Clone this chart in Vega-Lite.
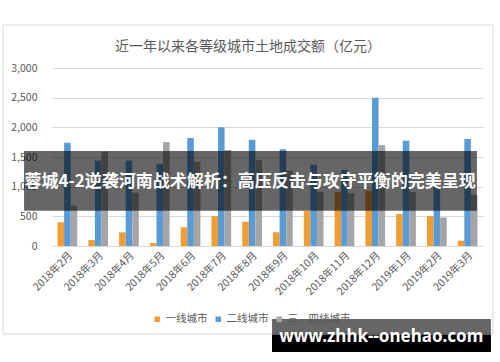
{
  "$schema": "https://vega.github.io/schema/vega-lite/v6.json",
  "width": 431,
  "height": 178,
  "autosize": {"type": "none"},
  "padding": {"left": 52, "top": 68, "right": 17, "bottom": 116},
  "background": "white",
  "config": {
    "view": {"stroke": null},
    "font": "Noto Sans CJK SC",
    "axisX": {"labelAngle": -45, "labelFontSize": 10.5, "labelColor": "#595959", "ticks": false, "domainColor": "#d9d9d9", "grid": false, "labelPadding": 4},
    "axisY": {"labelFontSize": 10.5, "labelColor": "#595959", "domain": false, "ticks": false, "gridColor": "#d9d9d9", "labelPadding": 15}
  },
  "title": {"text": "近一年以来各等级城市土地成交额（亿元）", "fontSize": 14, "fontWeight": "normal", "color": "#595959", "font": "Noto Sans CJK SC", "anchor": "middle", "frame": "bounds", "offset": -30},
  "resolve": {"axis": {"x": "independent", "y": "independent"}},
  "datasets": {
    "land": [
      {"month": "2018年2月", "series": "一线城市", "value": 400},
      {"month": "2018年2月", "series": "二线城市", "value": 1740},
      {"month": "2018年2月", "series": "三、四线城市", "value": 680},
      {"month": "2018年3月", "series": "一线城市", "value": 100},
      {"month": "2018年3月", "series": "二线城市", "value": 1440},
      {"month": "2018年3月", "series": "三、四线城市", "value": 1590},
      {"month": "2018年4月", "series": "一线城市", "value": 230},
      {"month": "2018年4月", "series": "二线城市", "value": 1440},
      {"month": "2018年4月", "series": "三、四线城市", "value": 900},
      {"month": "2018年5月", "series": "一线城市", "value": 50},
      {"month": "2018年5月", "series": "二线城市", "value": 1380},
      {"month": "2018年5月", "series": "三、四线城市", "value": 1750},
      {"month": "2018年6月", "series": "一线城市", "value": 315},
      {"month": "2018年6月", "series": "二线城市", "value": 1820},
      {"month": "2018年6月", "series": "三、四线城市", "value": 1420},
      {"month": "2018年7月", "series": "一线城市", "value": 505},
      {"month": "2018年7月", "series": "二线城市", "value": 2000},
      {"month": "2018年7月", "series": "三、四线城市", "value": 1620},
      {"month": "2018年8月", "series": "一线城市", "value": 410},
      {"month": "2018年8月", "series": "二线城市", "value": 1790},
      {"month": "2018年8月", "series": "三、四线城市", "value": 1450},
      {"month": "2018年9月", "series": "一线城市", "value": 230},
      {"month": "2018年9月", "series": "二线城市", "value": 1630},
      {"month": "2018年9月", "series": "三、四线城市", "value": 1270},
      {"month": "2018年10月", "series": "一线城市", "value": 590},
      {"month": "2018年10月", "series": "二线城市", "value": 1370},
      {"month": "2018年10月", "series": "三、四线城市", "value": 915},
      {"month": "2018年11月", "series": "一线城市", "value": 915},
      {"month": "2018年11月", "series": "二线城市", "value": 1280},
      {"month": "2018年11月", "series": "三、四线城市", "value": 890},
      {"month": "2018年12月", "series": "一线城市", "value": 930},
      {"month": "2018年12月", "series": "二线城市", "value": 2500},
      {"month": "2018年12月", "series": "三、四线城市", "value": 1700},
      {"month": "2019年1月", "series": "一线城市", "value": 540},
      {"month": "2019年1月", "series": "二线城市", "value": 1775},
      {"month": "2019年1月", "series": "三、四线城市", "value": 910},
      {"month": "2019年2月", "series": "一线城市", "value": 505},
      {"month": "2019年2月", "series": "二线城市", "value": 1000},
      {"month": "2019年2月", "series": "三、四线城市", "value": 480},
      {"month": "2019年3月", "series": "一线城市", "value": 90},
      {"month": "2019年3月", "series": "二线城市", "value": 1805},
      {"month": "2019年3月", "series": "三、四线城市", "value": 860}
    ]
  },
  "layer": [
    {
      "data": {"name": "land"},
      "mark": {"type": "bar"},
      "encoding": {
        "x": {
          "field": "month", "type": "nominal",
          "sort": ["2018年2月","2018年3月","2018年4月","2018年5月","2018年6月","2018年7月","2018年8月","2018年9月","2018年10月","2018年11月","2018年12月","2019年1月","2019年2月","2019年3月"],
          "scale": {"paddingInner": 0.36, "paddingOuter": 0.18},
          "axis": {"title": null}
        },
        "xOffset": {"field": "series", "type": "nominal", "sort": ["一线城市", "二线城市", "三、四线城市"], "scale": {"paddingInner": 0, "paddingOuter": 0}},
        "y": {
          "field": "value", "type": "quantitative",
          "scale": {"domain": [0, 3000], "nice": false},
          "axis": {"title": null, "values": [0, 500, 1000, 1500, 2000, 2500, 3000], "format": ",.0f"}
        },
        "color": {
          "field": "series", "type": "nominal",
          "scale": {"domain": ["一线城市", "二线城市", "三、四线城市"], "range": ["#F39C33", "#5B9BD5", "#A5A5A5"]},
          "legend": {"title": null, "orient": "none", "direction": "horizontal", "legendX": 100, "legendY": 246, "gridAlign": "none", "symbolType": "square", "symbolSize": 30, "labelFontSize": 10.5, "labelColor": "#595959", "columnPadding": 5, "labelOffset": 3, "symbolStrokeWidth": 0}
        }
      }
    },
    {
      "data": {"values": [{"item": "frame"}]},
      "mark": {"type": "rect", "filled": false, "stroke": "#d9d9d9", "strokeWidth": 1, "xOffset": -54.5, "x2Offset": 35.2},
      "encoding": {
        "x": {"datum": "2018年2月", "bandPosition": 0, "axis": null},
        "x2": {"datum": "2019年3月", "bandPosition": 0},
        "y": {"datum": 3725, "type": "quantitative", "axis": null},
        "y2": {"datum": -1483}
      }
    },
    {
      "data": {"values": [{"item": "banner"}]},
      "mark": {"type": "rect", "color": "black", "opacity": 0.6, "xOffset": -33.5, "x2Offset": 19.2},
      "encoding": {
        "x": {"datum": "2018年2月", "bandPosition": 0, "axis": null},
        "x2": {"datum": "2019年3月", "bandPosition": 0},
        "y": {"datum": 1600, "type": "quantitative", "axis": null},
        "y2": {"datum": 595}
      }
    },
    {
      "data": {"values": [{"item": "banner"}]},
      "mark": {"type": "text", "color": "white", "fontSize": 17, "fontWeight": "bold", "font": "Noto Sans CJK SC", "baseline": "middle", "align": "center", "dx": -2},
      "encoding": {
        "x": {"datum": "2018年8月", "axis": null},
        "y": {"datum": 1079, "type": "quantitative", "axis": null},
        "text": {"value": "蓉城4-2逆袭河南战术解析：高压反击与攻守平衡的完美呈现"}
      }
    },
    {
      "data": {"values": [{"item": "watermark"}]},
      "mark": {"type": "rect", "color": "black", "opacity": 0.6, "xOffset": -1, "x2Offset": 33.2},
      "encoding": {
        "x": {"datum": "2018年9月", "bandPosition": 0, "axis": null},
        "x2": {"datum": "2019年3月", "bandPosition": 0},
        "y": {"datum": -1230, "type": "quantitative", "axis": null},
        "y2": {"datum": -1787}
      }
    },
    {
      "data": {"values": [{"item": "watermark"}]},
      "mark": {"type": "rect", "color": "black", "opacity": 1, "xOffset": -1, "x2Offset": 33.2},
      "encoding": {
        "x": {"datum": "2018年9月", "bandPosition": 0, "axis": null},
        "x2": {"datum": "2019年3月", "bandPosition": 0},
        "y": {"datum": -1500, "type": "quantitative", "axis": null},
        "y2": {"datum": -1787}
      }
    },
    {
      "data": {"values": [{"item": "watermark"}]},
      "mark": {"type": "text", "color": "white", "fontSize": 17, "fontWeight": "bold", "font": "Noto Sans", "baseline": "middle", "align": "center", "dx": 6},
      "encoding": {
        "x": {"datum": "2018年12月", "axis": null},
        "y": {"datum": -1534, "type": "quantitative", "axis": null},
        "text": {"value": "www.zhhk--onehao.com"}
      }
    }
  ]
}
